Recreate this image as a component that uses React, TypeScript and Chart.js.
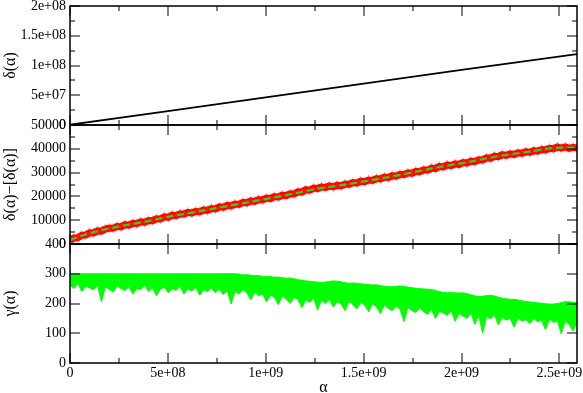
import React, { useEffect, useRef } from "react";
import { Chart, registerables } from "chart.js";

Chart.register(...registerables);

// ---- data ----
const X_MAX = 2.59e9;
const N_SAMPLES = 130;
const xTickValues = [0, 5e8, 1e9, 1.5e9, 2e9, 2.5e9];

// top panel: delta(alpha)
const deltaAlpha = [0, 5e8, 1e9, 1.5e9, 2e9, 2.59e9];
const deltaValues = [0.4e6, 2.35e7, 4.65e7, 6.95e7, 9.25e7, 1.19e8];

// middle panel: noisy red band (sampled evenly on [0, X_MAX])
const diffValues = [
  1500, 2500, 2600, 3700, 3800, 4700, 4600, 5500, 5400, 6300,
  6700, 6600, 7400, 7200, 8100, 7900, 8700, 8500, 9300, 9100,
  9900, 9800, 10600, 10500, 11400, 11200, 12100, 11900, 12700, 12500,
  13300, 13000, 13700, 13500, 14300, 14100, 14900, 14700, 15600, 15400,
  16200, 16000, 16800, 16600, 17500, 17300, 18100, 17900, 18700, 18500,
  19300, 19100, 19900, 19700, 20500, 20300, 21100, 21000, 21900, 21800,
  22800, 22600, 23500, 23300, 24000, 23700, 24400, 24000, 24700, 24400,
  25200, 25000, 25800, 25600, 26400, 26200, 26900, 26700, 27500, 27300,
  28100, 27900, 28700, 28500, 29300, 29100, 29900, 29700, 30500, 30400,
  31200, 31000, 31900, 31700, 32600, 32400, 33200, 32900, 33700, 33400,
  34200, 34000, 34800, 34600, 35400, 35300, 36200, 36000, 36900, 36700,
  37500, 37200, 37900, 37600, 38300, 38100, 38800, 38500, 39200, 39000,
  39700, 39500, 40200, 40000, 40800, 40300, 40800, 40200, 40600, 40300,
];

// middle panel: smooth dashed fit
const fitAlpha = [0, 0.92e8, 1.94e8, 2.96e8, 3.98e8, 5.0e8, 6.02e8, 8.67e8, 11.22e8, 12.5e8, 13.78e8, 16.33e8, 17.5e8, 19.03e8, 20.05e8, 21.94e8, 23.47e8, 24.85e8, 25.9e8];
const fitValues = [1700, 4300, 6400, 8100, 9600, 11400, 12900, 16900, 20800, 23000, 24600, 28200, 30100, 32600, 34000, 37000, 38800, 40400, 40500];

// bottom panel: gamma(alpha) upper edge and lower (spiky) edge
const gammaHigh = [
  300, 300, 300, 300, 300, 300, 300, 300, 300, 300,
  300, 300, 300, 300, 300, 300, 300, 300, 300, 300,
  300, 300, 300, 300, 300, 300, 300, 300, 300, 300,
  300, 300, 300, 300, 300, 300, 300, 300, 300, 300,
  300, 300, 300, 299, 296, 297, 295, 293, 294, 291,
  290, 291, 288, 289, 287, 285, 286, 283, 280, 278,
  276, 275, 273, 272, 271, 272, 274, 276, 275, 273,
  270, 268, 269, 268, 266, 265, 264, 262, 263, 260,
  258, 257, 256, 258, 259, 257, 255, 253, 251, 250,
  249, 248, 247, 244, 240, 237, 236, 237, 236, 235,
  236, 233, 229, 226, 223, 224, 227, 228, 225, 221,
  218, 216, 214, 214, 212, 209, 207, 205, 204, 202,
  201, 199, 198, 198, 200, 203, 206, 206, 204, 203,
];
const gammaLow = [
  262, 250, 268, 240, 258, 252, 246, 262, 206, 255,
  248, 238, 260, 250, 244, 256, 232, 250, 247, 262,
  240, 252, 226, 248, 256, 236, 250, 244, 258, 232,
  250, 242, 255, 228, 246, 240, 252, 236, 248, 230,
  244, 198, 240, 232, 246, 236, 212, 238, 226, 232,
  205, 228, 222, 196, 224, 216, 200, 220, 214, 186,
  212, 204, 218, 178, 210, 200, 214, 188, 206, 198,
  176, 208, 196, 182, 204, 194, 172, 200, 188, 166,
  196, 184, 176, 192, 180, 139, 188, 176, 170, 186,
  172, 164, 180, 150, 174, 168, 160, 176, 140, 166,
  158, 150, 168, 130, 160, 100, 156, 148, 162, 128,
  154, 144, 150, 120, 152, 140, 146, 132, 150, 138,
  144, 112, 148, 136, 142, 98, 140, 130, 107, 138,
];

// tick steps
const xMajor = 5e8, xMinor = 2.5e8;
const panels = [
  { id: "yDelta", max: 2e8, major: 5e7, minor: 2.5e7, title: "δ(α)" },
  { id: "yDiff", max: 50000, major: 10000, minor: 5000, title: "δ(α)−[δ(α)]" },
  { id: "yGamma", max: 400, major: 100, minor: 100, title: "γ(α)" },
];

const FONT = "'Liberation Serif', 'Times New Roman', serif";

function sci(v: number): string {
  if (v === 0) return "0";
  const e = Math.floor(Math.log10(Math.abs(v)) + 1e-9);
  const m = +(v / Math.pow(10, e)).toFixed(2);
  return `${m}e+${String(e).padStart(2, "0")}`;
}

const framePlugin = {
  id: "frame",
  afterDatasetsDraw(chart: any) {
    const ctx = chart.ctx;
    const { left, right } = chart.chartArea;
    const xs = chart.scales.x;
    ctx.save();
    ctx.strokeStyle = "#000";
    for (const p of panels) {
      const s = chart.scales[p.id];
      const top = s.getPixelForValue(p.max);
      const bottom = s.getPixelForValue(0);
      ctx.lineWidth = 1;
      ctx.beginPath();
      for (let v = 0; v <= p.max + 1e-6; v += p.minor) {
        const y = Math.round(s.getPixelForValue(v));
        const isMajor = Math.abs(v / p.major - Math.round(v / p.major)) < 1e-6;
        const len = isMajor ? 10 : 5;
        ctx.moveTo(left, y); ctx.lineTo(left + len, y);
        ctx.moveTo(right, y); ctx.lineTo(right - len, y);
      }
      for (let v = 0; v <= X_MAX; v += xMinor) {
        const x = Math.round(xs.getPixelForValue(v));
        const isMajor = Math.abs(v / xMajor - Math.round(v / xMajor)) < 1e-6;
        const len = isMajor ? 10 : 5;
        ctx.moveTo(x, top); ctx.lineTo(x, top + len);
        ctx.moveTo(x, bottom); ctx.lineTo(x, bottom - len);
      }
      ctx.stroke();
      ctx.lineWidth = 1.5;
      ctx.strokeRect(left, top, right - left, bottom - top);
    }
    ctx.restore();
  },
};

export default function App() {
  const ref = useRef<HTMLCanvasElement | null>(null);
  useEffect(() => {
    if (!ref.current) return;
    Chart.defaults.font.family = FONT;
    Chart.defaults.font.size = 14;
    Chart.defaults.color = "#000";

    const grid = (i: number) => (i * X_MAX) / (N_SAMPLES - 1);
    const yScale = (p: any, weight: number, fmt: (v: number) => string) => ({
      type: "linear",
      position: "left",
      stack: "panels",
      stackWeight: 1,
      weight,
      min: 0,
      max: p.max,
      grid: { display: false, drawTicks: false, tickLength: 0 },
      border: { display: false },
      ticks: { stepSize: p.major, autoSkip: false, padding: 4, callback: (v: any) => fmt(+v), includeBounds: false },
      title: { display: true, text: p.title, font: { size: 16, family: FONT }, padding: { top: 1, bottom: 0 } },
      afterFit: (s: any) => {
        s.width = 70;
        s.paddingTop = 0;
        s.paddingBottom = 0;
      },
    });

    const chart = new Chart(ref.current, {
      type: "line",
      data: {
        datasets: [
          {
            label: "delta",
            data: deltaAlpha.map((a, i) => ({ x: a, y: deltaValues[i] })),
            yAxisID: "yDelta",
            borderColor: "#000",
            borderWidth: 1.8,
            pointRadius: 0,
            fill: false,
            order: 1,
          },
          {
            label: "fit",
            data: fitAlpha.map((a, i) => ({ x: a, y: fitValues[i] })),
            yAxisID: "yDiff",
            borderColor: "#22dd00",
            borderWidth: 2.2,
            borderDash: [7, 4],
            pointRadius: 0,
            tension: 0.4,
            cubicInterpolationMode: "monotone",
            fill: false,
            order: 0,
          },
          {
            label: "diff",
            data: diffValues.map((v, i) => ({ x: grid(i), y: v })),
            yAxisID: "yDiff",
            borderColor: "#ff0000",
            borderWidth: 7,
            pointStyle: "cross",
            pointRadius: 5,
            pointBorderWidth: 1,
            pointBorderColor: "rgba(255,40,40,0.5)",
            pointBackgroundColor: "rgba(255,40,40,0.5)",
            fill: false,
            order: 2,
          },
          {
            label: "gammaHigh",
            data: gammaHigh.map((v, i) => ({ x: grid(i), y: v })),
            yAxisID: "yGamma",
            borderColor: "#00ff00",
            borderWidth: 1,
            pointRadius: 0,
            backgroundColor: "#00ff00",
            fill: "+1",
            order: 3,
          },
          {
            label: "gammaLow",
            data: gammaLow.map((v, i) => ({ x: grid(i), y: v })),
            yAxisID: "yGamma",
            borderColor: "#00ff00",
            borderWidth: 1,
            pointRadius: 0,
            fill: false,
            order: 4,
          },
        ],
      },
      options: {
        animation: false,
        responsive: false,
        devicePixelRatio: 1,
        layout: { padding: { top: 6, right: 5, left: 0, bottom: 0 } },
        plugins: { legend: { display: false }, tooltip: { enabled: false } },
        scales: {
          x: {
            type: "linear",
            position: "bottom",
            min: 0,
            max: X_MAX,
            grid: { display: false, drawTicks: false, tickLength: 0 },
            border: { display: false },
            afterBuildTicks: (s: any) => {
              s.ticks = xTickValues.map((v) => ({ value: v }));
            },
            ticks: { autoSkip: false, maxRotation: 0, minRotation: 0, padding: 2, callback: (v: any) => sci(+v) },
            title: { display: true, text: "α", font: { size: 16, family: FONT, lineHeight: 1 }, padding: { top: 0, bottom: -3 } },
            afterFit: (s: any) => {
              s.height = 30;
              s.paddingLeft = 0;
              s.paddingRight = 0;
            },
          },
          yGamma: yScale(panels[2], 1, (v) => String(v)),
          yDiff: yScale(panels[1], 2, (v) => String(v)),
          yDelta: yScale(panels[0], 3, sci),
        } as any,
      },
      plugins: [framePlugin],
    } as any);
    return () => chart.destroy();
  }, []);

  return (
    <div style={{ position: "absolute", left: 0, top: 0, width: 583, height: 393, background: "#fff" }}>
      <canvas ref={ref} width={583} height={393} style={{ width: 583, height: 393 }} />
    </div>
  );
}
